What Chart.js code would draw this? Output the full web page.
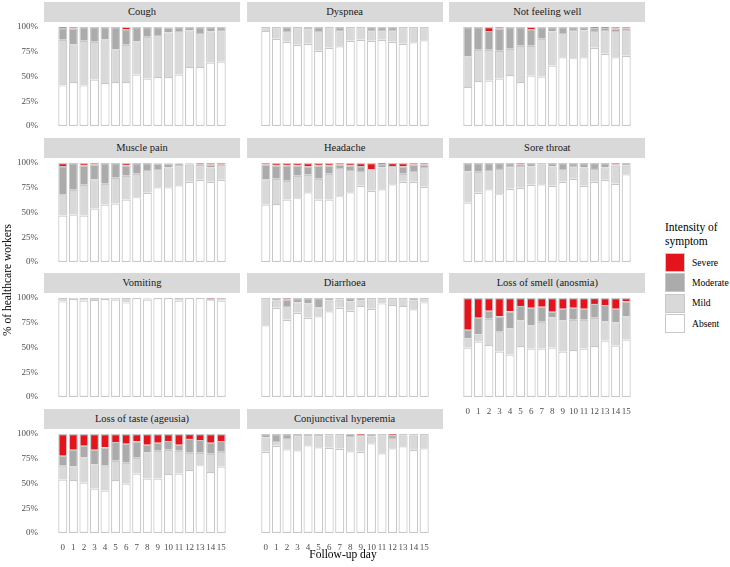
<!DOCTYPE html>
<html>
<head>
<meta charset="utf-8">
<script src="https://cdn.jsdelivr.net/npm/chart.js@4.4.1/dist/chart.umd.min.js"></script>
<style>
  body { margin: 0; background: #ffffff; font-family: "Liberation Serif", "Times New Roman", serif; }
  #page { position: relative; width: 730px; height: 567px; overflow: hidden; background: #ffffff; }
  .strip { position: absolute; background: #d9d9d9; color: #1a1a1a; font-family: "Liberation Serif", serif; font-size: 10.5px; text-align: center; line-height: 20px; height: 20px; }
  canvas { position: absolute; }
  .txt { position: absolute; color: #000; white-space: nowrap; font-family: "Liberation Serif", serif; }
  .key { position: absolute; box-sizing: border-box; width: 20px; height: 19px; border: 1.3px solid #c8c8c8; }
  .keylab { position: absolute; font-family: "Liberation Serif", serif; font-size: 9.6px; color: #000; line-height: 12px; }
</style>
</head>
<body>
<div id="page"></div>
<script>
const days = [0, 1, 2, 3, 4, 5, 6, 7, 8, 9, 10, 11, 12, 13, 14, 15];
const levels = ["Absent", "Mild", "Moderate", "Severe"];
const levelColors = ["#ffffff", "#d9d9d9", "#ababab", "#e3141c"];
const yTicks = [0, 25, 50, 75, 100];

// % of healthcare workers per day, one array per intensity
const coughAbsent   = [41, 44.5, 41, 47, 43.5, 44.5, 44.5, 52, 48, 49.5, 49.5, 52, 59.5, 59.5, 64, 65];
const coughMild     = [46, 38, 45, 38, 44, 33, 37.5, 33.5, 42, 42.5, 45, 44, 37, 34.5, 31.5, 32];
const coughModerate = [12, 16, 14, 15, 12.5, 22.5, 16, 14.5, 10, 8, 5, 4, 3.5, 6, 4.5, 3];
const coughSevere   = [1, 1.5, 0, 0, 0, 0, 2, 0, 0, 0, 0.5, 0, 0, 0, 0, 0];

const dyspneaAbsent   = [96, 88, 85, 82, 83, 76, 79, 80.5, 86, 87, 86, 87, 85, 83, 84.5, 86.5];
const dyspneaMild     = [4, 12, 11, 18, 16, 20, 21, 16.5, 14, 13, 11, 10, 12, 17, 15.5, 13.5];
const dyspneaModerate = [0, 0, 4, 0, 1, 4, 0, 3, 0, 0, 3, 3, 3, 0, 0, 0];
const dyspneaSevere   = [0, 0, 0, 0, 0, 0, 0, 0, 0, 0, 0, 0, 0, 0, 0, 0];

const unwellAbsent   = [39.5, 45.5, 46, 48, 51.5, 44.5, 51, 50, 61, 69.5, 68.5, 69.5, 79, 73, 69.5, 71];
const unwellMild     = [31, 31.5, 31, 28, 26.5, 36.5, 30, 38, 34.5, 24.5, 28.5, 27, 17, 24, 26.5, 26];
const unwellModerate = [29.5, 23, 19, 22.5, 22, 19, 17, 12, 4.5, 6, 3, 3.5, 3, 2, 2.5, 1.5];
const unwellSevere   = [0, 0, 4, 1.5, 0, 0, 2, 0, 0, 0, 0, 0, 1, 1, 1.5, 1.5];

const muscleAbsent   = [47, 48, 47, 54, 58, 59, 63, 65.5, 70, 75.5, 75.5, 77.5, 81, 83, 81, 83];
const muscleMild     = [21, 25, 31, 29.5, 21, 26, 24, 23.5, 23, 18.5, 20, 20.5, 17.5, 15, 14.5, 15];
const muscleModerate = [29, 27, 19.5, 15, 21, 15, 10.5, 11, 7, 5.5, 4, 1.5, 1, 0.5, 3, 0.5];
const muscleSevere   = [3, 0, 2.5, 1.5, 0, 0, 2.5, 0, 0, 0.5, 0.5, 0.5, 0.5, 1.5, 1.5, 1.5];

const headacheAbsent   = [58, 58.5, 63, 64.5, 70.5, 63, 63, 66.5, 70.5, 77, 72, 73.5, 78.5, 81, 81, 76];
const headacheMild     = [25.5, 25.5, 19, 22.5, 17.5, 21, 26, 28.5, 22.5, 15, 22, 22, 18.5, 8, 11, 20];
const headacheModerate = [15, 13.5, 15.5, 10.5, 8.5, 13.5, 8.5, 3.5, 4.5, 5, 0, 3.5, 0, 7.5, 6.5, 2.5];
const headacheSevere   = [1.5, 2.5, 2.5, 2.5, 3.5, 2.5, 2.5, 1.5, 2.5, 3, 6, 1, 3, 3.5, 1.5, 1.5];

const throatAbsent   = [60, 70, 73.5, 68.5, 74, 75, 78, 78.5, 77, 81, 84, 77, 81, 83, 79, 88.5];
const throatMild     = [31.5, 21, 19.5, 25.5, 23, 22, 18.5, 20, 19.5, 13, 13, 18.5, 13, 12.5, 18.5, 9];
const throatModerate = [8.5, 9, 7, 6, 3, 1.5, 3.5, 1.5, 3.5, 6, 3, 4.5, 6, 4.5, 1, 2.5];
const throatSevere   = [0, 0, 0, 0, 0, 1.5, 0, 0, 0, 0, 0, 0, 0, 0, 1.5, 0];

const vomitAbsent   = [96.5, 99, 97.5, 98, 99, 98.5, 95.5, 100, 98.5, 100, 100, 97.5, 100, 100, 98.5, 97.5];
const vomitMild     = [3.5, 1, 2.5, 2, 1, 1.5, 4.5, 0, 1, 0, 0, 2.5, 0, 0, 0, 2.5];
const vomitModerate = [0, 0, 0, 0, 0, 0, 0, 0, 0.5, 0, 0, 0, 0, 0, 0, 0];
const vomitSevere   = [0, 0, 0, 0, 0, 0, 0, 0, 0, 0, 0, 0, 0, 0, 1.5, 0];

const diarrAbsent   = [72.5, 90, 78, 85, 80, 81.5, 86.5, 90, 87, 92, 89, 94.5, 93, 92, 88.5, 95.5];
const diarrMild     = [27.5, 7.5, 14, 10.5, 14.5, 9, 11, 8.5, 9.5, 5.5, 11, 5.5, 7, 8, 9, 4.5];
const diarrModerate = [0, 2.5, 6.5, 4.5, 5.5, 9.5, 2.5, 1.5, 3.5, 2.5, 0, 0, 0, 0, 2.5, 0];
const diarrSevere   = [0, 0, 1.5, 0, 0, 0, 0, 0, 0, 0, 0, 0, 0, 0, 0, 0];

const smellAbsent   = [50, 56, 52.5, 46, 43, 51.5, 49, 49, 50, 46, 47.5, 49, 51.5, 57, 52, 58];
const smellMild     = [9, 7, 26.5, 20, 26.5, 26, 23.5, 27, 30.5, 31.5, 30.5, 29, 28.5, 19.5, 23.5, 23.5];
const smellModerate = [9, 17, 8, 15.5, 17, 14.5, 17.5, 15, 5.5, 11.5, 12, 11, 14, 16.5, 13.5, 15];
const smellSevere   = [32, 20, 13, 18.5, 13.5, 8, 10, 9, 14, 11, 10, 11, 6, 7, 11, 3.5];

const tasteAbsent   = [54, 53.5, 51, 45, 43, 53.5, 50, 60, 55, 55, 59.5, 60, 63.5, 68.5, 61.5, 67];
const tasteMild     = [14, 14, 25.5, 24.5, 25, 19.5, 21, 16, 26.5, 28, 24.5, 23, 17.5, 12.5, 18.5, 15];
const tasteModerate = [10, 16.5, 11.5, 14.5, 18.5, 19, 19, 16.5, 7.5, 8, 9, 6, 14, 13, 11, 11];
const tasteSevere   = [22, 16, 12, 16, 13.5, 8, 10, 7.5, 11, 9, 7, 11, 5, 6, 9, 7];

const conjAbsent   = [82, 88, 84.5, 83.5, 88.5, 86.5, 86, 85, 82.5, 82, 90.5, 80.5, 85.5, 87.5, 84, 85.5];
const conjMild     = [14.5, 5, 11.5, 15.5, 10.5, 12.5, 12.5, 15, 15.5, 17, 7, 19.5, 10.5, 11, 14.5, 14.5];
const conjModerate = [3.5, 7, 4, 1, 1, 1, 1.5, 0, 2, 0, 2.5, 0, 3, 1.5, 1.5, 0];
const conjSevere   = [0, 0, 0, 0, 0, 0, 0, 0, 0, 1, 0, 0, 1, 0, 0, 0];

const panels = [
  ["Cough", [coughAbsent, coughMild, coughModerate, coughSevere]],
  ["Dyspnea", [dyspneaAbsent, dyspneaMild, dyspneaModerate, dyspneaSevere]],
  ["Not feeling well", [unwellAbsent, unwellMild, unwellModerate, unwellSevere]],
  ["Muscle pain", [muscleAbsent, muscleMild, muscleModerate, muscleSevere]],
  ["Headache", [headacheAbsent, headacheMild, headacheModerate, headacheSevere]],
  ["Sore throat", [throatAbsent, throatMild, throatModerate, throatSevere]],
  ["Vomiting", [vomitAbsent, vomitMild, vomitModerate, vomitSevere]],
  ["Diarrhoea", [diarrAbsent, diarrMild, diarrModerate, diarrSevere]],
  ["Loss of smell (anosmia)", [smellAbsent, smellMild, smellModerate, smellSevere]],
  ["Loss of taste (ageusia)", [tasteAbsent, tasteMild, tasteModerate, tasteSevere]],
  ["Conjunctival hyperemia", [conjAbsent, conjMild, conjModerate, conjSevere]],
];

const page = document.getElementById("page");
const tickFont = { family: '"Liberation Serif", serif', size: 9 };

function addText(text, css) {
  const d = document.createElement("div");
  d.className = "txt";
  d.textContent = text;
  Object.assign(d.style, css);
  page.appendChild(d);
  return d;
}

/* --------------------------------------------------------- panels */
panels.forEach(([title, series], i) => {
  const col = i % 3;
  const row = Math.floor(i / 3);
  const left = 44 + col * 202.65;
  const top = 2 + row * 135.5;
  const showY = col === 0;
  const showX = i >= 8;
  const yw = showY ? 44 : 0;

  const strip = document.createElement("div");
  strip.className = "strip";
  strip.textContent = title;
  Object.assign(strip.style, { left: left + "px", top: top + "px", width: "196px" });
  page.appendChild(strip);

  const cv = document.createElement("canvas");
  cv.width = 196 + yw;
  cv.height = 109 + (showX ? 20 : 0);
  Object.assign(cv.style, { left: (left - yw) + "px", top: (top + 20) + "px", width: cv.width + "px", height: cv.height + "px" });
  page.appendChild(cv);

  new Chart(cv.getContext("2d"), {
    type: "bar",
    data: {
      labels: days,
      datasets: series.map((vals, k) => ({
        label: levels[k],
        data: vals,
        backgroundColor: levelColors[k],
        borderColor: "#c8c8c8",
        borderWidth: 1.2,
        borderSkipped: k === 0 ? false : "start",
        categoryPercentage: 1,
        barPercentage: 0.86,
      })),
    },
    options: {
      responsive: false,
      animation: false,
      layout: { padding: 0 },
      plugins: { legend: { display: false }, tooltip: { enabled: false } },
      scales: {
        x: {
          type: "linear",
          stacked: true,
          min: -1.2,
          max: 16.2,
          display: showX,
          grid: { display: false, drawTicks: false },
          border: { display: false },
          afterBuildTicks: (s) => { s.ticks = days.map((d) => ({ value: d })); },
          afterFit: (s) => {
            if (showX) s.height = 20;
            s.paddingLeft = 0;
            s.paddingRight = 0;
          },
          ticks: { font: tickFont, color: "#4d4d4d", padding: 4, maxRotation: 0, autoSkip: false },
        },
        y: {
          stacked: true,
          min: -5,
          max: 105,
          display: showY,
          grid: { display: false, drawTicks: false },
          border: { display: false },
          afterBuildTicks: (s) => { s.ticks = yTicks.map((v) => ({ value: v })); },
          afterFit: (s) => {
            if (showY) s.width = 44;
            s.paddingTop = 0;
            s.paddingBottom = 0;
          },
          ticks: { font: tickFont, color: "#4d4d4d", padding: 6, callback: (v) => v + "%" },
        },
      },
    },
  });
});

/* --------------------------------------------------------- axis titles */
addText("Follow-up day", { left: "343px", top: "554px", fontSize: "11.5px", transform: "translate(-50%, -50%)" });
addText("% of healthcare workers", { left: "7px", top: "280px", fontSize: "11.5px", transform: "translate(-50%, -50%) rotate(-90deg)" });

/* --------------------------------------------------------- legend */
addText("Intensity of", { left: "665px", top: "220px", fontSize: "11.5px", lineHeight: "14px" });
addText("symptom", { left: "665px", top: "234px", fontSize: "11.5px", lineHeight: "14px" });
const legendOrder = [3, 2, 1, 0];
legendOrder.forEach((k, j) => {
  const y = 253 + j * 20.4;
  const box = document.createElement("div");
  box.className = "key";
  Object.assign(box.style, { left: "665px", top: y + "px", background: levelColors[k] });
  page.appendChild(box);
  const lab = document.createElement("div");
  lab.className = "keylab";
  lab.textContent = levels[k];
  Object.assign(lab.style, { left: "692px", top: (y + 3.5) + "px" });
  page.appendChild(lab);
});
</script>
</body>
</html>
